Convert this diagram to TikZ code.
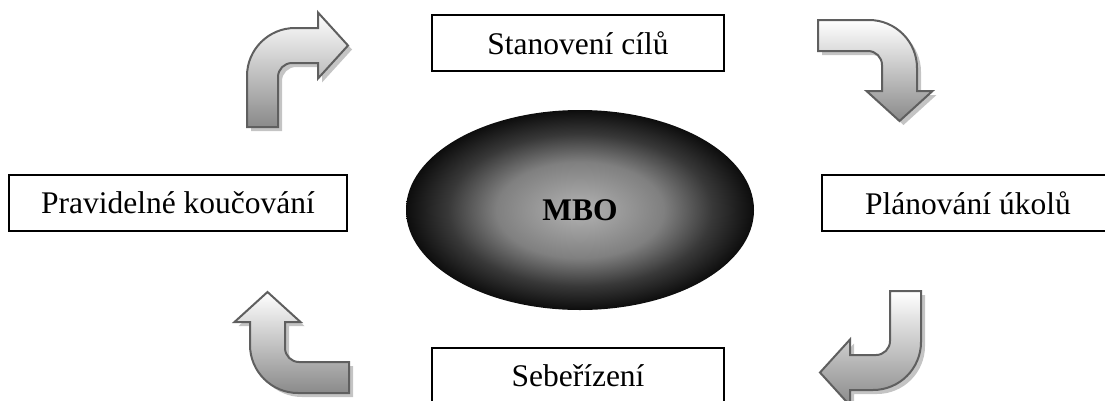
\documentclass[tikz,border=0pt]{standalone}
\usepackage{fontspec}
\setmainfont{Liberation Serif}
\usepackage{tikz}
\usetikzlibrary{shapes.geometric}
\definecolor{mboline}{HTML}{5F5F5F}
\definecolor{mboshadow}{HTML}{C4C4C4}
\definecolor{mbolow}{HTML}{8A8A8A}
\pgfdeclareradialshading{mboglow}{\pgfpoint{0bp}{0bp}}{color(0bp)=(black!30); color(12bp)=(black!50); color(19bp)=(black!78); color(25bp)=(black!95); color(50bp)=(black)}
% bent arrows, pixel coordinates (y downwards)
\newcommand{\bentTL}{(247,127) -- (247,76) .. controls (247,49.5) and (268.5,28) .. (295,28) -- (318,28) -- (318,12.5) -- (348,45.5) -- (318,78.5) -- (318,63) -- (292,63) .. controls (284.3,63) and (278,69.3) .. (278,77) -- (278,127) -- cycle}
\newcommand{\bentTR}{(818,20) -- (869,20) .. controls (895.5,20) and (917,41.5) .. (917,68) -- (917,91) -- (932.5,91) -- (899.5,121) -- (866.5,91) -- (882,91) -- (882,65) .. controls (882,57.3) and (875.7,51) .. (868,51) -- (818,51) -- cycle}
\newcommand{\bentBR}{(921,291) -- (921,342) .. controls (921,368.5) and (899.5,390) .. (873,390) -- (850,390) -- (850,405.5) -- (820,372.5) -- (850,339.5) -- (850,355) -- (876,355) .. controls (883.7,355) and (890,348.7) .. (890,341) -- (890,291) -- cycle}
\newcommand{\bentBL}{(349,393) -- (298,393) .. controls (271.5,393) and (250,371.5) .. (250,345) -- (250,322) -- (234.5,322) -- (267.5,292) -- (300.5,322) -- (285,322) -- (285,348) .. controls (285,355.7) and (291.3,362) .. (299,362) -- (349,362) -- cycle}

\begin{document}
\begin{tikzpicture}[x=1pt,y=-1pt,
  stagebox/.style={draw=black,line width=1.3pt,rectangle,inner sep=0pt,minimum height=56pt,font=\fontsize{31.5}{38}\selectfont},
  bentshadow/.style={fill=mboshadow,shift={(4,4)}},
  bentarrow/.style={top color=white,bottom color=mbolow,draw=mboline,line width=2pt,line join=miter}]
  \useasboundingbox (0,0) rectangle (1105,400);
  % centre: MBO
  \node[ellipse,shade,shading=mboglow,inner sep=0pt,minimum width=348pt,minimum height=200pt,
        font=\fontsize{31.5}{38}\selectfont\bfseries] (mbo) at (580,210) {MBO};
  % the four stages
  \node[stagebox,minimum width=292pt] (cile) at (578,43) {Stanovení cílů};
  \node[stagebox,minimum width=292pt] (plan) at (968,203) {Plánování úkolů};
  \node[stagebox,minimum width=292pt] (rizeni) at (578,376) {Sebeřízení};
  \node[stagebox,minimum width=338pt] (kouc) at (178,203) {Pravidelné koučování};
  % bent arrows between the stages
  \fill[bentshadow] \bentTL;
  \shade[bentarrow] \bentTL;
  \fill[bentshadow] \bentTR;
  \shade[bentarrow] \bentTR;
  \fill[bentshadow] \bentBR;
  \shade[bentarrow] \bentBR;
  \fill[bentshadow] \bentBL;
  \shade[bentarrow] \bentBL;
\end{tikzpicture}
\end{document}
